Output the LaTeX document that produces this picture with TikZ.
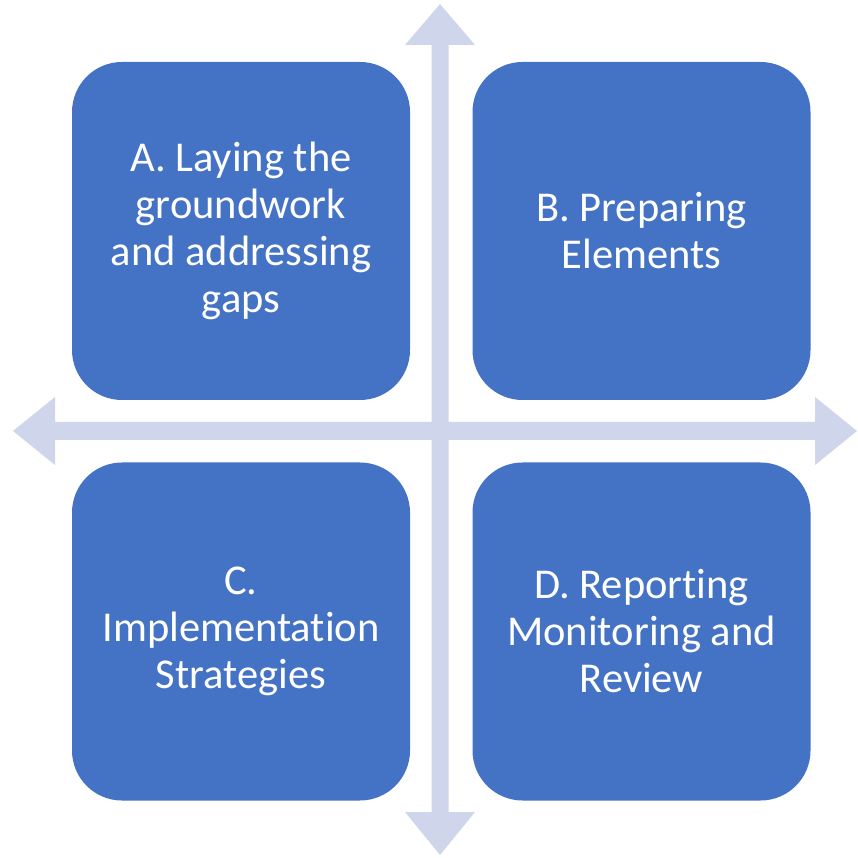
\documentclass[tikz,border=0pt]{standalone}
\usepackage{fontspec}
\setmainfont[Ligatures=NoCommon]{Carlito}
\definecolor{boxblue}{HTML}{4472C4}
\definecolor{axis}{HTML}{CFD5EA}
\begin{document}
\begin{tikzpicture}[x=1pt,y=1pt,
  quad/.style={fill=boxblue, draw=none, rounded corners=50pt, minimum width=338pt, minimum height=338pt,
    text=white, align=center, font=\fontsize{42.5}{47}\selectfont, inner sep=0pt},
  axisfill/.style={fill=axis, draw=none}]
\useasboundingbox (0,0) rectangle (858,857);
% vertical axis
\coordinate (vtop) at (440,853);
\coordinate (vbot) at (440,2);
\fill[axisfill] (vtop) -- (475,812) -- (448.5,812) -- (448.5,45) -- (475,45) -- (vbot)
  -- (405,45) -- (431.5,45) -- (431.5,812) -- (405,812) -- cycle;
% horizontal axis
\coordinate (hleft) at (13,426);
\coordinate (hright) at (857,426);
\fill[axisfill] (hleft) -- (55,460) -- (55,435) -- (815,435) -- (815,460) -- (hright)
  -- (815,392) -- (815,417) -- (55,417) -- (55,392) -- cycle;
\node[quad] (A) at (241,626) {\raisebox{0pt}{}A. Laying the\\groundwork\\and addressing\\gaps};
\node[quad] (B) at (641.5,626) {B. Preparing\\Elements};
\node[quad] (C) at (241,225.5) {C.\\Implementation\\Strategies};
\node[quad] (D) at (641.5,225.5) {D. Reporting\\Monitoring and\\Review};
\end{tikzpicture}
\end{document}
